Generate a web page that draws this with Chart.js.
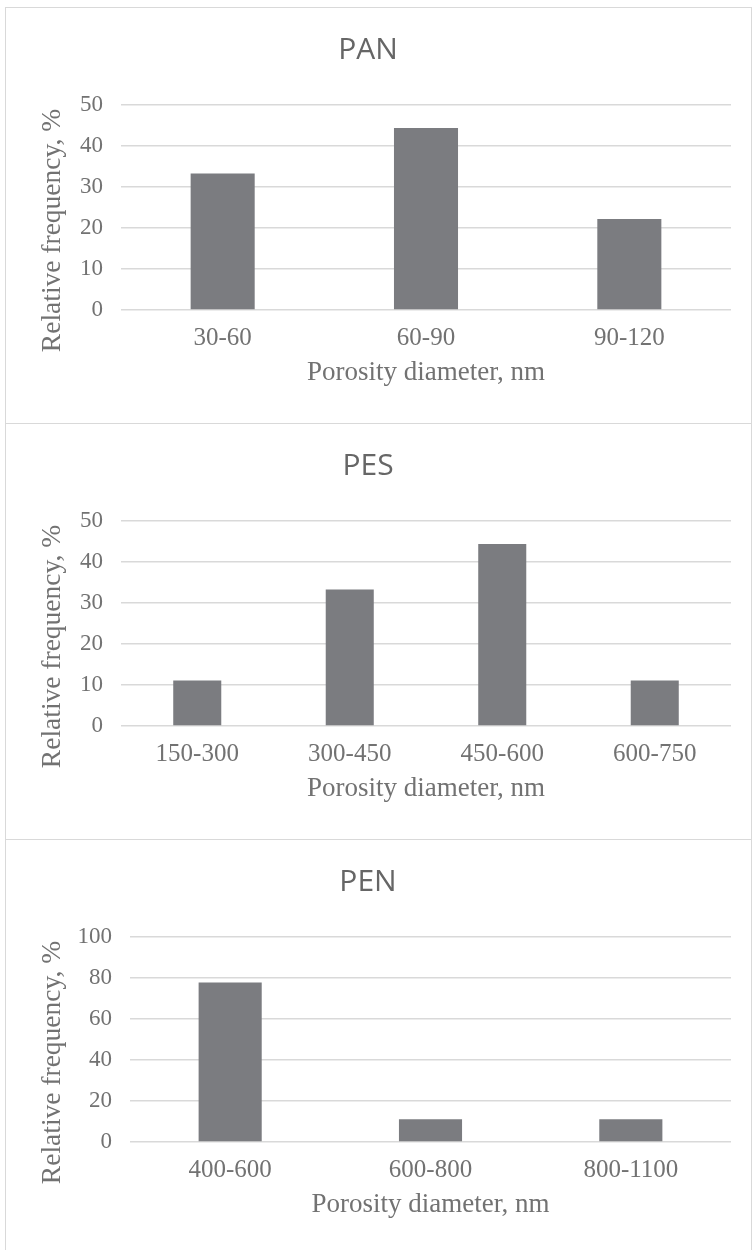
<!DOCTYPE html>
<html>
<head>
<meta charset="utf-8">
<script src="https://cdn.jsdelivr.net/npm/chart.js@4/dist/chart.umd.min.js"></script>
<style>
  html, body { margin: 0; padding: 0; background: #ffffff; width: 752px; height: 1250px; overflow: hidden; }
  .panel { position: absolute; left: 5px; width: 747px; height: 417px; box-sizing: border-box; border: 1px solid #d9d9d9; }
  .cv { position: absolute; left: 5px; }
</style>
</head>
<body>
<div class="panel" style="top:7px"></div>
<div class="panel" style="top:423px"></div>
<div class="panel" style="top:839px"></div>
<canvas id="c1" class="cv" style="top:7px;width:746px;height:416px" width="746" height="416"></canvas>
<canvas id="c2" class="cv" style="top:423px;width:746px;height:416px" width="746" height="416"></canvas>
<canvas id="c3" class="cv" style="top:839px;width:746px;height:416px" width="746" height="416"></canvas>
<script>
// ---- data ----
const panTitle = 'PAN';
const panLabels = ['30-60', '60-90', '90-120'];
const panValues = [33.3, 44.4, 22.2];
const panYMax = 50;
const panYStep = 10;

const pesTitle = 'PES';
const pesLabels = ['150-300', '300-450', '450-600', '600-750'];
const pesValues = [11.1, 33.3, 44.4, 11.1];
const pesYMax = 50;
const pesYStep = 10;

const penTitle = 'PEN';
const penLabels = ['400-600', '600-800', '800-1100'];
const penValues = [77.8, 11.1, 11.1];
const penYMax = 100;
const penYStep = 20;

const xAxisTitle = 'Porosity diameter, nm';
const yAxisTitle = 'Relative frequency, %';

// ---- styles ----
const BAR_COLOR = '#7b7c80';
const GRID_COLOR = '#d9d9d9';
const TEXT_COLOR = '#727272';
const TITLE_COLOR = '#666666';
const SERIF = '"Liberation Serif", "Times New Roman", serif';

const yTitlePlugin = {
  id: 'yTitle',
  afterDraw(chart, args, opts) {
    const ctx = chart.ctx;
    ctx.save();
    ctx.translate(opts.x, opts.y);
    ctx.rotate(-Math.PI / 2);
    ctx.font = opts.size + 'px ' + SERIF;
    ctx.fillStyle = TEXT_COLOR;
    ctx.textAlign = 'center';
    ctx.textBaseline = 'middle';
    ctx.fillText(opts.text, 0, 0);
    ctx.restore();
  }
};

function makeChart(id, title, labels, values, yMax, yStep, plotLeft) {
  return new Chart(document.getElementById(id), {
    type: 'bar',
    data: {
      labels: labels,
      datasets: [{
        data: values,
        backgroundColor: BAR_COLOR,
        borderWidth: 0,
        barPercentage: 0.315,
        categoryPercentage: 1.0
      }]
    },
    plugins: [yTitlePlugin],
    options: {
      responsive: false,
      animation: false,
      devicePixelRatio: 1,
      layout: { padding: { left: 0, right: 20, top: 0, bottom: 33.4 } },
      plugins: {
        legend: { display: false },
        tooltip: { enabled: false },
        title: {
          display: true,
          text: title,
          color: TITLE_COLOR,
          font: { family: '"Open Sans", sans-serif', size: 30, weight: 'normal', lineHeight: 1.2 },
          padding: { top: 25.6, bottom: 36.4 }
        },
        yTitle: { text: yAxisTitle, x: 47.5, y: 223.5, size: 27.5 }
      },
      scales: {
        x: {
          grid: { display: false, drawTicks: false },
          border: { display: false },
          ticks: {
            color: TEXT_COLOR,
            padding: 13.6,
            maxRotation: 0,
            font: { family: SERIF, size: 25, lineHeight: 1.2 }
          },
          title: {
            display: true,
            text: xAxisTitle,
            color: TEXT_COLOR,
            font: { family: SERIF, size: 27, lineHeight: 1.2 },
            padding: { top: 4, bottom: 0 }
          },
          afterFit(scale) { scale.height = 79.6; }
        },
        y: {
          min: 0,
          max: yMax,
          grid: { color: GRID_COLOR, lineWidth: 1.5, drawTicks: false },
          border: { display: false },
          ticks: {
            stepSize: yStep,
            color: TEXT_COLOR,
            padding: 18,
            font: { family: SERIF, size: 23, lineHeight: 1.2 }
          },
          afterFit(scale) { scale.width = plotLeft; }
        }
      }
    }
  });
}

makeChart('c1', panTitle, panLabels, panValues, panYMax, panYStep, 116);
makeChart('c2', pesTitle, pesLabels, pesValues, pesYMax, pesYStep, 116);
makeChart('c3', penTitle, penLabels, penValues, penYMax, penYStep, 125);
</script>
</body>
</html>
